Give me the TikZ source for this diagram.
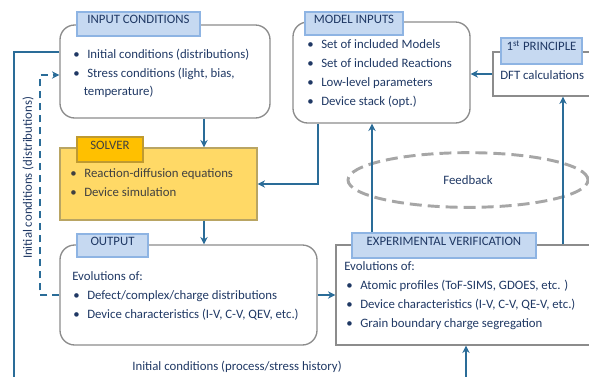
\documentclass[tikz,border=0pt]{standalone}
\usepackage{fontspec}
\setmainfont{Carlito}
\usetikzlibrary{arrows.meta,fit}

\definecolor{boxgray}{HTML}{8C8C8C}
\definecolor{tabblue}{HTML}{C6D9F1}
\definecolor{tabedge}{HTML}{8EB4E3}
\definecolor{solveryellow}{HTML}{FFD966}
\definecolor{solveredge}{HTML}{B9A563}
\definecolor{tabgold}{HTML}{FFC000}
\definecolor{tabgoldedge}{HTML}{BF9A30}
\definecolor{arrowblue}{HTML}{2A6C98}
\definecolor{textnavy}{HTML}{1F3864}
\definecolor{solvertext}{HTML}{404040}
\definecolor{fbgray}{HTML}{A6A6A6}

\newcommand{\blt}{\makebox[10.5pt][l]{\textbullet}}

\tikzset{
  roundbox/.style={draw=boxgray, line width=1pt, rounded corners=11pt, inner sep=0pt},
  sqbox/.style={draw=boxgray, line width=1pt, inner sep=0pt},
  tab/.style={draw=tabedge, fill=tabblue, line width=0.8pt, inner sep=0pt, text=textnavy},
  txt/.style={anchor=base west, inner sep=0pt, text=textnavy},
  flow/.style={draw=arrowblue, line width=1pt, -{Stealth[length=5.5pt,width=5.5pt]}},
}

\begin{document}
\begin{tikzpicture}[x=0.75pt, y=-0.75pt, font=\fontsize{9.6pt}{11pt}\selectfont]
    \useasboundingbox (0,0) rectangle (589,376);

    % boxes
    \node[roundbox, fit={(60,25) (270,118)}] (input) {};
    \node[sqbox, fill=solveryellow, draw=solveredge, fit={(60,148) (257,220)}] (solver) {};
    \node[roundbox, fit={(60,245) (317,345)}] (output) {};
    \node[roundbox, fit={(293,22) (470,123)}] (model) {};
    \node[sqbox, fit={(493,52) (600,96)}] (dft) {};
    \node[sqbox, fit={(336,245) (600,345)}] (expver) {};

    % title tabs
    \node[tab, fit={(77,12) (200,36)}] (inputtab) {INPUT CONDITIONS};
    \node[tab, fill=tabgold, draw=tabgoldedge, text=solvertext, fit={(77,137) (143,162)}] (solvertab) {SOLVER};
    \node[tab, fit={(77,234) (148,257)}] (outputtab) {OUTPUT};
    \node[tab, fit={(305,12) (403,35)}] (modeltab) {MODEL INPUTS};
    \node[tab, fit={(501,38) (582,64)}] (dfttab) {1\textsuperscript{st} PRINCIPLE};
    \node[tab, fit={(352,233) (536,258)}] (expvertab) {EXPERIMENTAL VERIFICATION};

    % box texts
    \node[txt] (in1) at (73,58.5) {\blt Initial conditions (distributions)};
    \node[txt] (in2) at (73,77.5) {\blt Stress conditions (light, bias,};
    \node[txt] (in3) at (83.5,95.5) {temperature)};

    \node[txt, text=solvertext] (sv1) at (70,177.5) {\blt Reaction-diffusion equations};
    \node[txt, text=solvertext] (sv2) at (70,196.5) {\blt Device simulation};

    \node[txt] (out0) at (72,280.5) {Evolutions of:};
    \node[txt] (out1) at (73,299.5) {\blt Defect/complex/charge distributions};
    \node[txt] (out2) at (73,318.5) {\blt Device characteristics (I-V, C-V, QEV, etc.)};

    \node[txt] (mi1) at (307,48.5) {\blt Set of included Models};
    \node[txt] (mi2) at (307,67.5) {\blt Set of included Reactions};
    \node[txt] (mi3) at (307,86.5) {\blt Low-level parameters};
    \node[txt] (mi4) at (307,105.5) {\blt Device stack (opt.)};

    \node[txt] (dft1) at (500,79.5) {DFT calculations};

    \node[txt] (ev0) at (344,270.5) {Evolutions of:};
    \node[txt] (ev1) at (346,289.5) {\blt Atomic profiles (ToF-SIMS, GDOES, etc. )};
    \node[txt] (ev2) at (346,308.5) {\blt Device characteristics (I-V, C-V, QE-V, etc.)};
    \node[txt] (ev3) at (346,327.5) {\blt Grain boundary charge segregation};

    % feedback
    \node[text=textnavy] (fb) at (468,180) {Feedback};
    \draw[fbgray, line width=2.2pt, dash pattern=on 9pt off 4.5pt] (fb) ellipse [x radius=90pt, y radius=20.5pt];

    % free labels
    \node[rotate=90, text=textnavy] (initdist) at (28,178) {Initial conditions (distributions)};
    \node[text=textnavy] (inithist) at (237,367) {Initial conditions (process/stress history)};

    % connectors
    \coordinate (colA) at (204,0);
    \coordinate (colB) at (318,0);
    \coordinate (colC) at (372,0);
    \coordinate (colD) at (563,0);
    \coordinate (evin) at (466,380);
    \coordinate (histin) at (14,380);
    \coordinate (hist) at (14,52);
    \coordinate (dashtop) at (40,75);

    \draw[flow] (colA |- input.south) -- (colA |- solver.north);
    \draw[flow] (colA |- solver.south) -- (colA |- output.north);
    \draw[flow] (colB |- model.south) |- (solver.east);
    \draw[flow] (output.east) -- (output.east -| expver.west);
    \draw[flow] (colC |- expvertab.north) -- (colC |- model.south);
    \draw[flow] (colD |- expver.north) -- (colD |- dft.south);
    \draw[flow] (dft.west) -- (dft.west -| model.east);
    \draw[flow] (evin) -- (evin |- expver.south);
    \draw[arrowblue, line width=1pt] (histin) -- (hist) -- (hist -| input.west);
    \draw[flow, dash pattern=on 5.5pt off 3.5pt] (output.west) -| (dashtop) -- (dashtop -| input.west);
\end{tikzpicture}
\end{document}
